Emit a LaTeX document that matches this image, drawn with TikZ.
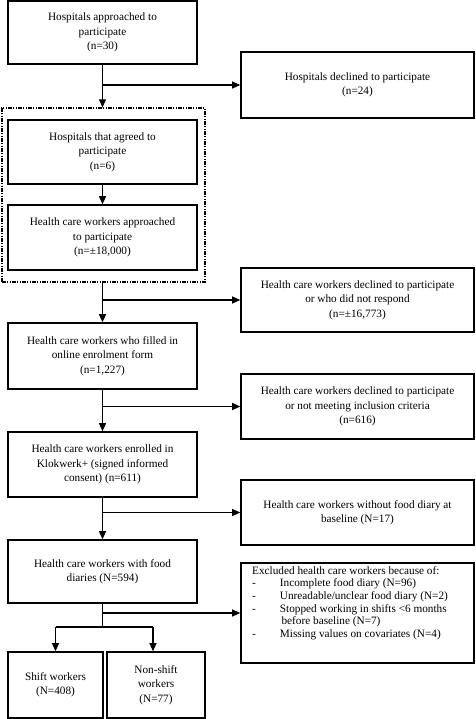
\documentclass[tikz,border=0pt]{standalone}
\usepackage{fontspec}
\setmainfont{Liberation Serif}
\usetikzlibrary{arrows.meta}
\begin{document}
\begin{tikzpicture}[x=1bp,y=-1bp,
  box/.style={draw, line width=1.6bp, align=center, inner sep=2bp,
    font=\fontsize{11.3}{14.5}\selectfont},
  lbox/.style={box, minimum width=189bp},
  rbox/.style={box, minimum width=233bp},
  arr/.style={line width=1.1bp, -{Triangle[length=8bp,width=7bp]}},
  ln/.style={line width=1.1bp},
  frm/.style={draw, line width=1.3bp, inner sep=0pt,
    dash pattern=on 4bp off 1.2bp on 1.2bp off 1.2bp on 1.2bp off 1.2bp}]
\useasboundingbox (0,0) rectangle (476,719);

% left column
\node[lbox, minimum height=63bp] (b1) at (102.5,32.5)
  {Hospitals approached to\\participate\\(n=30)};
\node[frm, minimum width=203bp, minimum height=174bp] (frame) at (103.5,195) {};
\node[lbox, minimum height=64bp] (b2) at (102.5,152)
  {Hospitals that agreed to\\participate\\(n=6)};
\node[lbox, minimum height=65bp] (b3) at (102.5,237.5)
  {Health care workers approached\\to participate\\(n=±18,000)};
\node[lbox, minimum height=66bp] (b4) at (102.5,356)
  {Health care workers who filled in\\online enrolment form\\(n=1,227)};
\node[lbox, minimum height=65bp] (b5) at (102.5,464.5)
  {Health care workers enrolled in\\Klokwerk+ (signed informed\\consent) (n=611)};
\node[lbox, minimum height=63bp] (b6) at (102.5,571.5)
  {Health care workers with food\\diaries (N=594)};
\node[box, minimum width=95bp, minimum height=66bp] (s1) at (55.5,685)
  {Shift workers\\(N=408)};
\node[box, minimum width=98bp, minimum height=66bp] (s2) at (156,685)
  {Non-shift\\workers\\(N=77)};

% right column
\node[rbox, minimum height=66bp] (r1) at (357.5,85)
  {Hospitals declined to participate\\(n=24)};
\node[rbox, minimum height=64bp] (r2) at (357.5,300)
  {Health care workers declined to participate\\or who did not respond\\(n=±16,773)};
\node[rbox, minimum height=65bp] (r3) at (357.5,406.5)
  {Health care workers declined to participate\\or not meeting inclusion criteria\\(n=616)};
\node[rbox, minimum height=65bp] (r4) at (357.5,512.5)
  {Health care workers without food diary at\\baseline (N=17)};
\node[rbox, minimum height=100bp] (r5) at (357.5,613) {};
\node[anchor=north west, inner sep=0pt, align=left,
  font=\fontsize{11.3}{12.7}\selectfont] (r5t) at (252,566)
  {Excluded health care workers because of:\\
   -\hspace{24bp}Incomplete food diary (N=96)\\
   -\hspace{24bp}Unreadable/unclear food diary (N=2)\\
   -\hspace{24bp}Stopped working in shifts <6 months\\
   \hspace{29.4bp}before baseline (N=7)\\
   -\hspace{24bp}Missing values on covariates (N=4)};

% main flow
\draw[arr] (b1.south) -- (b1.south |- frame.north);
\draw[arr] (b2.south) -- (b3.north);
\draw[arr] (b3.south |- frame.south) -- (b4.north);
\draw[arr] (b4.south) -- (b5.north);
\draw[arr] (b5.south) -- (b6.north);

% exclusions
\draw[arr] (b1.south |- r1.west) -- (r1.west);
\draw[arr] (b4.north |- r2.west) -- (r2.west);
\draw[arr] (b4.south |- r3.west) -- (r3.west);
\draw[arr] (b5.south |- r4.west) -- (r4.west);
\coordinate (sp) at (102.5,627);
\draw[ln] (b6.south) -- (sp);
\draw[arr] (b6.south |- r5.west) -- (r5.west);

% split
\coordinate (sp2) at (153,627);
\draw[ln] (s1.north |- sp) -- (sp2);
\draw[arr] (s1.north |- sp) -- (s1.north);
\draw[arr] (sp2) -- (sp2 |- s2.north);
\end{tikzpicture}
\end{document}
